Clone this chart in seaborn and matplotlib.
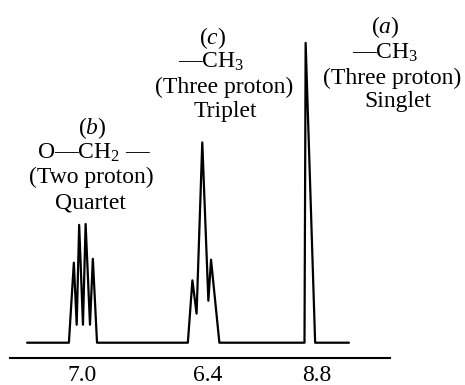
import numpy as np
import pandas as pd
import matplotlib
matplotlib.use('Agg')
import matplotlib.pyplot as plt
import seaborn as sns

# spectrum trace
# x = position along the axis (0-100), y = intensity (singlet = 100)
baseline_x = [4.5, 89.2]
quartet_x = [15.5, 16.8, 17.55, 18.2, 19.2, 19.9, 21.05, 21.8, 22.9]
quartet_y = [0, 26.7, 6, 39.3, 6, 39.6, 6, 28, 0]
triplet_x = [46.8, 48.0, 49.1, 50.6, 52.2, 52.9, 55.1]
triplet_y = [0, 20.8, 9.7, 66.8, 14, 27.7, 0]
singlet_x = [77.5, 77.8, 80.3]
singlet_y = [0, 100, 0]

tick_pos = [18.9, 52.1, 80.7]
tick_labels = ['7.0', '6.4', '8.8']

# peak annotations, one list of lines per group
label_b = ['($b$)', 'O—CH$_2$ —', '(Two proton)', 'Quartet']
label_c = ['($c$)', '—CH$_3$', '(Three proton)', 'Triplet']
label_a = ['($a$)', '—CH$_3$', '(Three proton)', 'Singlet']

trace_x = [baseline_x[0]] + quartet_x + triplet_x + singlet_x + [baseline_x[1]]
trace_y = [0] + quartet_y + triplet_y + singlet_y + [0]
spec = pd.DataFrame({'x': trace_x, 'y': trace_y})

sns.set_theme(style='white')
plt.rcParams['font.family'] = ['Liberation Serif', 'DejaVu Serif']
plt.rcParams['mathtext.fontset'] = 'custom'
plt.rcParams['mathtext.rm'] = 'Liberation Serif'
plt.rcParams['mathtext.it'] = 'Liberation Serif:italic'

fig = plt.figure(figsize=(4.65, 3.85), dpi=100)
ax = fig.add_axes([10/465, 27.3/385, 380/465, 357.7/385])

sns.lineplot(data=spec, x='x', y='y', sort=False, estimator=None,
             color='black', lw=1.6, ax=ax)

ax.set_xlim(0, 100)
ax.set_ylim(-5, 114.3)
ax.set_xticks(tick_pos, tick_labels)
ax.set_yticks([])
ax.set_xlabel('')
ax.set_ylabel('')
ax.tick_params(axis='x', length=0, pad=5, labelsize=17, colors='black')
sns.despine(ax=ax, left=True)
ax.spines['bottom'].set_color('black')
ax.spines['bottom'].set_linewidth(1.5)

# text placement (x centre per line, y centre per line)
groups = [
    (label_b, [21.6, 22.1, 21.3, 21.1], [71.7, 63.3, 55, 46.7]),
    (label_c, [53.4, 52.9, 56.3, 56.6], [101.7, 93.7, 85, 77]),
    (label_a, [98.7, 98.7, 100.5, 102.1], [105.3, 96.7, 88.3, 80.3]),
]
for lines, xs, ys in groups:
    for txt, tx, ty in zip(lines, xs, ys):
        ax.text(tx, ty, txt, ha='center', va='center', fontsize=17,
                color='black', clip_on=False)

fig.savefig('out.png', dpi=100)
